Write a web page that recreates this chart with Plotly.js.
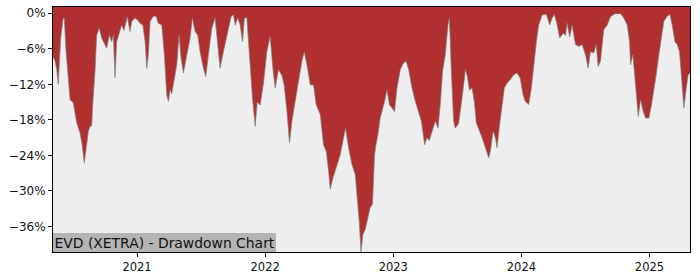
<!DOCTYPE html>
<html>
<head>
<meta charset="utf-8">
<script src="https://cdn.plot.ly/plotly-3.0.1.min.js"></script>
<style>html,body{margin:0;padding:0;background:#fff;}#chart{width:700px;height:280px;}</style>
</head>
<body>
<div id="chart"></div>
<script>
// Time as fractional years
const t = [
2020.344,2020.359,2020.373,2020.385,2020.404,2020.424,2020.432,2020.445,2020.477,2020.502,
2020.529,2020.555,2020.570,2020.588,2020.607,2020.620,2020.633,2020.646,2020.654,2020.672,
2020.685,2020.705,2020.724,2020.750,2020.763,2020.784,2020.802,2020.815,2020.828,2020.841,
2020.867,2020.880,2020.898,2020.924,2020.945,2020.959,2020.984,2021.002,2021.023,2021.045,
2021.063,2021.076,2021.088,2021.102,2021.127,2021.148,2021.166,2021.193,2021.213,2021.232,
2021.245,2021.258,2021.271,2021.284,2021.310,2021.328,2021.344,2021.362,2021.388,2021.414,
2021.432,2021.453,2021.474,2021.492,2021.518,2021.537,2021.557,2021.584,2021.609,2021.623,
2021.648,2021.674,2021.701,2021.734,2021.752,2021.766,2021.787,2021.805,2021.823,2021.838,
2021.857,2021.883,2021.901,2021.922,2021.938,2021.961,2021.987,2022.013,2022.039,2022.060,
2022.078,2022.104,2022.130,2022.148,2022.170,2022.190,2022.209,2022.234,2022.260,2022.287,
2022.305,2022.326,2022.352,2022.377,2022.398,2022.430,2022.455,2022.477,2022.495,2022.508,
2022.529,2022.555,2022.586,2022.612,2022.627,2022.651,2022.677,2022.703,2022.716,2022.734,
2022.748,2022.763,2022.781,2022.802,2022.820,2022.838,2022.854,2022.865,2022.880,2022.898,
2022.912,2022.932,2022.951,2022.969,2022.990,2023.010,2023.029,2023.055,2023.080,2023.099,
2023.120,2023.146,2023.172,2023.198,2023.219,2023.245,2023.263,2023.281,2023.302,2023.328,
2023.349,2023.367,2023.385,2023.406,2023.427,2023.438,2023.453,2023.471,2023.484,2023.510,
2023.537,2023.563,2023.578,2023.594,2023.615,2023.633,2023.648,2023.666,2023.693,2023.719,
2023.745,2023.758,2023.779,2023.797,2023.810,2023.830,2023.849,2023.867,2023.888,2023.914,
2023.940,2023.966,2023.992,2024.013,2024.031,2024.057,2024.078,2024.096,2024.117,2024.135,
2024.162,2024.195,2024.221,2024.240,2024.258,2024.279,2024.299,2024.326,2024.344,2024.357,
2024.377,2024.396,2024.422,2024.448,2024.474,2024.500,2024.521,2024.539,2024.565,2024.584,
2024.599,2024.617,2024.643,2024.670,2024.695,2024.734,2024.773,2024.799,2024.826,2024.844,
2024.852,2024.870,2024.885,2024.898,2024.912,2024.930,2024.951,2024.969,2024.995,2025.016,
2025.034,2025.052,2025.073,2025.094,2025.112,2025.138,2025.159,2025.177,2025.198,2025.216,
2025.234,2025.250,2025.268,2025.287,2025.302,2025.316
];
// Drawdown in percent
const drawdown = [
-7.3,-8.0,-9.5,-12.0,-4.2,-0.8,-0.8,-6.2,-14.6,-15.1,
-18.5,-20.2,-22.0,-25.3,-22.2,-19.9,-19.1,-19.0,-15.4,-9.8,
-3.7,-2.5,-4.2,-5.3,-5.9,-3.7,-4.8,-3.7,-10.9,-4.8,
-3.1,-2.0,-2.9,-0.6,-3.1,-1.4,-0.8,-1.1,-1.7,-2.0,
-4.8,-9.3,-7.0,-1.4,-0.5,-0.5,-1.7,-2.0,-7.0,-13.8,
-14.9,-12.9,-13.6,-12.1,-8.7,-3.7,-7.6,-10.1,-7.2,-4.2,
-0.8,-3.1,-3.7,-6.5,-9.3,-10.7,-7.0,-2.5,-0.8,-4.2,
-9.3,-6.5,-3.7,-0.6,-0.2,-2.0,-0.8,-2.0,-4.8,-0.8,
-0.8,-9.8,-14.3,-19.1,-15.0,-15.5,-11.8,-6.5,-3.9,-9.3,
-12.6,-9.5,-10.5,-12.1,-16.6,-21.9,-18.2,-14.9,-11.5,-8.1,
-6.5,-8.7,-12.1,-12.1,-15.4,-17.1,-22.2,-23.3,-26.7,-29.7,
-27.8,-26.1,-23.9,-21.0,-19.4,-22.7,-25.5,-27.2,-30.0,-35.1,
-40.3,-37.3,-36.5,-34.5,-32.8,-32.2,-23.9,-22.2,-20.5,-17.7,
-16.6,-14.9,-12.9,-15.4,-16.0,-16.6,-12.6,-9.5,-8.4,-8.1,
-9.5,-12.6,-14.9,-16.6,-18.2,-22.2,-21.0,-21.5,-19.9,-18.2,
-19.4,-15.4,-9.8,-7.0,-2.0,-0.8,-9.8,-18.2,-19.4,-18.6,
-14.3,-9.5,-10.7,-13.0,-12.6,-15.0,-18.5,-19.4,-21.0,-22.7,
-24.4,-23.3,-19.9,-21.0,-22.7,-18.8,-15.4,-12.6,-11.8,-11.2,
-10.4,-10.1,-11.0,-13.8,-14.9,-15.4,-12.6,-8.7,-4.8,-2.0,
-0.3,-0.2,-2.0,-0.8,-0.2,-2.0,-4.2,-3.4,-3.7,-1.7,
-4.0,-2.0,-5.3,-5.6,-5.3,-7.0,-9.3,-6.5,-6.7,-5.3,
-9.0,-8.1,-2.8,-2.0,-0.6,0.0,0.0,-0.8,-2.0,-4.8,
-8.7,-7.0,-10.9,-14.3,-17.4,-14.6,-16.6,-17.7,-17.7,-15.4,
-13.2,-10.4,-7.0,-4.2,-1.4,-0.5,-0.2,-2.0,-4.8,-5.3,
-6.5,-10.9,-16.0,-12.6,-10.4,-10.1
];
const yTicks = [0, -6, -12, -18, -24, -30, -36];
const yTickText = ["0%", "\u22126%", "\u221212%", "\u221218%", "\u221224%", "\u221230%", "\u221236%"];
const xTicks = [2021, 2022, 2023, 2024, 2025];
const xTickText = ["2021", "2022", "2023", "2024", "2025"];
const label = "EVD (XETRA) - Drawdown Chart";

const red = "#b03030";
const yTop = 1.05;
const yBottom = Math.min(...drawdown);

const trace = {
  x: t, y: drawdown, type: "scatter", mode: "lines",
  fill: "tozeroy", fillcolor: red,
  line: {color: "rgba(128,128,128,0.75)", width: 0.9},
  hoverinfo: "skip"
};

const layout = {
  width: 700, height: 280,
  margin: {l: 53, r: 10, t: 7, b: 28},
  paper_bgcolor: "#ffffff",
  plot_bgcolor: "#eeeeee",
  font: {family: "DejaVu Sans", size: 12, color: "#111"},
  showlegend: false,
  xaxis: {
    range: [t[0], t[t.length - 1]],
    tickvals: xTicks, ticktext: xTickText,
    ticks: "outside", ticklen: 4, tickcolor: "#000",
    showgrid: false, zeroline: false,
    showline: true, linecolor: "#000", linewidth: 1, mirror: true,
    tickfont: {size: 11.5, family: "DejaVu Sans", color: "#111"}
  },
  yaxis: {
    range: [yBottom, yTop],
    tickvals: yTicks, ticktext: yTickText,
    ticks: "outside", ticklen: 4, tickcolor: "#000",
    showgrid: false, zeroline: false,
    showline: true, linecolor: "#000", linewidth: 1, mirror: true,
    tickfont: {size: 12, family: "DejaVu Sans", color: "#111"}
  },
  shapes: [{
    type: "rect", layer: "below",
    xref: "x domain", x0: 0, x1: 1,
    yref: "y", y0: -0.12, y1: yTop,
    fillcolor: red, line: {width: 0}
  }],
  annotations: [{
    text: label, xref: "paper", yref: "paper", x: 0, y: 0,
    xanchor: "left", yanchor: "bottom", showarrow: false,
    bgcolor: "#b4b4b4", borderpad: 1.5, borderwidth: 0,
    font: {family: "DejaVu Sans", size: 13.9, color: "#111"}
  }]
};

Plotly.newPlot("chart", [trace], layout, {staticPlot: true, displayModeBar: false});
</script>
</body>
</html>
